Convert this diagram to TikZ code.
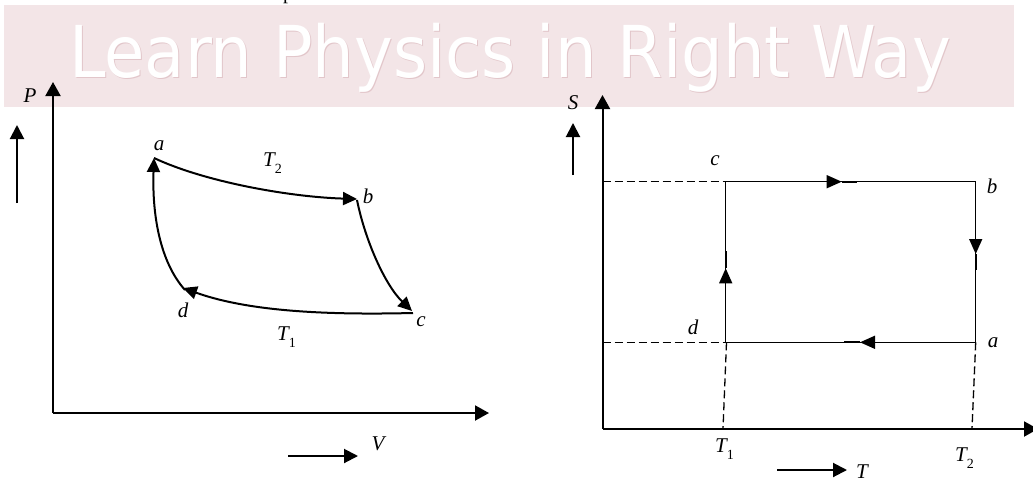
\documentclass[tikz,border=0pt]{standalone}
\usepackage{fontspec}
\setmainfont{Liberation Serif}
\newfontfamily\wmfont{DejaVu Sans}
\usetikzlibrary{arrows.meta}
\definecolor{band}{RGB}{243,229,231}
\definecolor{wmshade}{RGB}{226,198,202}
\tikzset{
  axis/.style={line width=2pt,-{Triangle[length=14pt,width=15pt]}},
  small/.style={line width=2pt,-{Triangle[length=14pt,width=14pt]}},
  curve/.style={line width=2pt,-{Triangle[length=14pt,width=13pt]}},
  edge/.style={line width=1.4pt},
  midtip/.style={line width=1.4pt,-{Triangle[length=15pt,width=13pt]}},
  stub/.style={line width=2.3pt},
  guide/.style={line width=1.3pt,dash pattern=on 8pt off 4pt},
  lab/.style={font=\fontsize{21}{21}\selectfont\itshape,inner sep=0pt},
  wmtext/.style={anchor=base west,inner sep=0pt},
}
\newcommand{\Tsub}[1]{\textit{T}\raisebox{-7pt}{\fontsize{14}{14}\selectfont\upshape #1}}
\newcommand{\wmstring}{\scalebox{1}[1.09]{\wmfont\fontsize{65.6}{66}\selectfont Learn Physics in Right Way}}
\begin{document}
\begin{tikzpicture}[x=1pt,y=-1pt]
\useasboundingbox (0,0) rectangle (1033,482);
% watermark
\fill[band] (4,5) rectangle (1014,107);
\node[wmtext,text=wmshade] (wm2) at (70,78) {\wmstring};
\node[wmtext,text=white] (wm) at (69,77) {\wmstring};
\node[anchor=base west,inner sep=0pt,font=\fontsize{20}{20}\selectfont] (ptop) at (283,-0.5) {p};

% ---------- P-V diagram ----------
\coordinate (O1) at (53,413);
\coordinate (Ytip1) at (53,82);
\coordinate (Xtip1) at (489,413);
\draw[axis] (O1) -- (Ytip1);
\draw[axis] (O1) -- (Xtip1);
\coordinate (pa0) at (17,203); \coordinate (pa1) at (17,125);
\draw[small] (pa0) -- (pa1);
\coordinate (va0) at (288,456); \coordinate (va1) at (358,456);
\draw[small] (va0) -- (va1);
\node[lab] (P) at (30,96) {P};
\node[lab] (V) at (378,444) {V};

\coordinate (a) at (154,158);
\coordinate (b) at (357,199);
\coordinate (b2) at (357,200);
\coordinate (c) at (413,313);
\coordinate (c2) at (412,311);
\coordinate (d) at (183,288);
\coordinate (d2) at (185,290);
\draw[curve] (a) .. controls (205,182) and (290,197) .. (b);
\draw[curve] (b2) .. controls (365,240) and (385,285) .. (c2);
\draw[curve] (c) .. controls (330,315) and (250,312) .. (d);
\draw[curve] (d2) .. controls (160,262) and (152,215) .. (a);
\node[lab] (la) at (159,146) {a};
\node[lab] (lb) at (368,196) {b};
\node[lab] (lc) at (421,322) {c};
\node[lab] (ld) at (183,310) {d};
\node[lab] (T2l) at (272.5,163.5) {\Tsub{2}};
\node[lab] (T1l) at (286.5,337.5) {\Tsub{1}};

% ---------- S-T diagram ----------
\coordinate (O2) at (602.5,429);
\coordinate (Ytip2) at (602.5,95);
\coordinate (Xtip2) at (1038,429);
\draw[axis] (O2) -- (Ytip2);
\draw[axis] (O2) -- (Xtip2);
\coordinate (sa0) at (573,175); \coordinate (sa1) at (573,123);
\draw[small] (sa0) -- (sa1);
\coordinate (ta0) at (777,470); \coordinate (ta1) at (847,470);
\draw[small] (ta0) -- (ta1);
\node[lab] (S) at (573,103) {S};
\node[lab] (T) at (862,472) {T};

\coordinate (C) at (725.7,181.7);
\coordinate (B) at (975.7,181.7);
\coordinate (A) at (975.7,342.3);
\coordinate (D) at (725.7,342.3);
\draw[edge] (D) -- (C) -- (B) -- (A) -- cycle;
% dashed guides
\coordinate (gc) at (602.5,181.7);
\coordinate (gd) at (602.5,342.3);
\coordinate (g1) at (723,429);
\coordinate (g2) at (972,429);
\coordinate (D3) at (726.5,342.3);
\draw[guide] (gc) -- (C);
\draw[guide] (gd) -- (D);
\draw[guide] (D3) -- (g1);
\draw[guide] (A) -- (g2);
% mid arrows
\coordinate (t1s) at (815,181.7); \coordinate (t1) at (841.7,181.7); \coordinate (t1u) at (857.3,181.7);
\draw[midtip] (t1s) -- (t1); \draw[stub] (t1) -- (t1u);
\coordinate (t2s) at (975.7,225); \coordinate (t2) at (975.7,254); \coordinate (t2u) at (975.7,270);
\draw[midtip] (t2s) -- (t2); \draw[stub] (t2) -- (t2u);
\coordinate (t3s) at (725.7,295); \coordinate (t3) at (725.7,268.3); \coordinate (t3u) at (725.7,250.7);
\draw[midtip] (t3s) -- (t3); \draw[stub] (t3) -- (t3u);
\coordinate (t4s) at (890,342.3); \coordinate (t4) at (860,342.3); \coordinate (t4u) at (844,342.3);
\draw[midtip] (t4s) -- (t4); \draw[stub] (t4) -- (t4u);

\node[lab] (rc) at (715,161) {c};
\node[lab] (rb) at (992,186) {b};
\node[lab] (ra) at (993,343) {a};
\node[lab] (rd) at (693,327) {d};
\node[lab] (rT1) at (724.5,449) {\Tsub{1}};
\node[lab] (rT2) at (964.5,458.5) {\Tsub{2}};
\end{tikzpicture}
\end{document}
